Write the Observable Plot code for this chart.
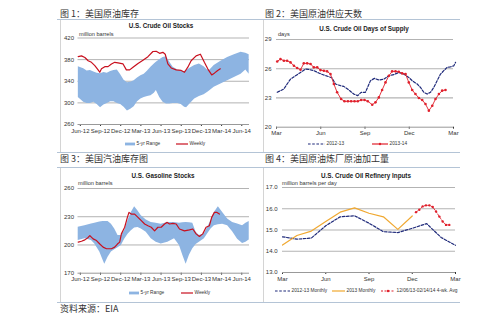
<!DOCTYPE html>
<html><head><meta charset="utf-8">
<script src="https://cdn.jsdelivr.net/npm/d3@7"></script>
<script src="https://cdn.jsdelivr.net/npm/@observablehq/plot@0.6"></script>
<style>
body{margin:0;background:#fff;}
#root{position:relative;width:499px;height:322px;overflow:hidden;font-family:"Liberation Sans",Arial,sans-serif;background:#fff;}
.cn{position:absolute;font-family:"Noto Sans CJK SC";font-size:9px;color:#333;line-height:1;white-space:nowrap;}
.hl{position:absolute;height:0;border-top:1px solid #b4c4d6;}
.vl{position:absolute;width:0;border-left:1px solid #d4d4d4;}
.ct{position:absolute;font-weight:bold;font-size:6.3px;color:#222;transform:translateX(-50%);white-space:nowrap;line-height:1;}
.un{position:absolute;font-size:5.6px;color:#333;white-space:nowrap;line-height:1;}
.lg{position:absolute;font-size:4.8px;color:#333;white-space:nowrap;line-height:1;display:flex;align-items:center;height:6px;}
.plot{position:absolute;}
.plot svg{overflow:visible;}
</style></head>
<body><div id="root"></div>
<script>
// ---------- data ----------
// Panels 1 & 3: x in months since Jun-2012
const stockTickMonths = [0,3,6,9,12,15,18,21,24];
const stockTickLabels = ["Jun-12","Sep-12","Dec-12","Mar-13","Jun-13","Sep-13","Dec-13","Mar-14","Jun-14"];

const crudeTicks = [260,300,340,380,420];
const crudeBandMonth = [-0.3,0.5,1,1.5,2,2.5,3,3.5,4,4.5,5,5.5,6,6.5,7,7.5,8,8.5,9,9.5,10,10.5,11,11.3,11.8,12.3,12.8,13.3,13.8,14.5,15,15.5,15.8,16.3,17,17.7,18.4,18.9,19.2,19.9,20.9,21.9,22.9,23.9,24.6,25.1];
const crudeBandHigh  = [367,363,359,360,357,355,354,356,355,358,360,361,352,342,337,338,341,346,350,353,359,366,372,375,380,384,385.5,375,366,361,359,358,360,364,369,372,367,361,360,369,377,384,389,393.5,392,389];
const crudeBandLow   = [310,301,299,299,301,297,291,296,299,302,302,299,297,292,285,288,293,302,307,310,312,313,318,323,310,301,298,298,299,299,297,292,291,298,307,312,315,319,322,329,335,341,347,353,361,353];
const crudeWeeklyMonth = [-0.32,0.17,0.67,1.16,1.65,2.15,2.64,2.89,3.14,3.63,4.12,4.62,5.11,5.6,6.35,6.84,7.33,7.83,8.57,9.31,10.05,10.79,11.28,11.78,12.27,12.62,13.01,13.51,14.25,14.99,15.48,15.98,16.47,17.21,17.85,18.44,18.94,19.53,19.93,20.42,20.81];
const crudeWeeklyValue = [385.5,387,384,378,375,369,361,356.6,363,367,367,372,375,374,372,361,361,366,373,379,385.5,395,395.4,391.7,393.5,390,372,364.6,361,360,356.6,366,378,387,390,375,363,351.7,355,360,363];

const gasTicks = [170,200,230,260];
const gasBandMonth = [-0.32,0.67,1.65,2.15,2.89,3.38,3.63,4.12,4.62,5.11,5.6,6.1,6.59,7.09,7.58,8.07,8.57,9.06,9.8,10.54,11.28,12.02,13.01,14,14.74,15.23,15.73,16.22,16.72,17.21,17.7,18.44,18.94,19.43,19.93,20.52,21.16,21.9,22.64,23.38,24.12,24.62,25.11];
const gasBandHigh = [218.8,220.5,222.3,223,224.3,225,225,225,222,217,210,210,215,226,234.6,240.5,236,231,226.5,224,223,222,224,224,223,223.5,224,223.5,223,213.5,210,211.8,218.8,226,234.6,240.5,234.6,227.5,224,222.3,220.5,223,225];
const gasBandLow  = [204.7,206.5,204.7,201,192.5,183.7,179.5,187,192.5,195,197,199.5,206,211.5,215,218,218.5,217,213.5,206.5,203,201,203,206.5,199.5,189,179.5,189,196,200.5,203,206.5,212,217,220.5,221.5,222,220.5,214,206,201.5,203,205.4];
const gasWeeklyMonth = [-0.32,0.17,0.67,1.16,1.41,1.9,2.4,2.89,3.38,3.88,4.62,5.11,5.51,5.85,6.1,6.59,6.99,7.23,7.58,8.07,8.57,9.06,9.56,10.05,10.54,11.04,11.53,12.02,12.52,12.91,13.26,13.75,14.25,14.74,15.48,16.22,16.72,17.21,17.7,18.2,18.69,19.19,19.53,19.93,20.32,20.67];
const gasWeeklyValue = [203,204,205.4,208,210,206.5,204.7,201,197.7,196,196,197.7,201,203,211.8,218.8,229.3,234.6,232.8,232.8,229.3,225.8,222.3,220.5,218.8,215,218.8,218.8,222.3,224,222.3,223,222.3,217,215,216,217,211.8,209,211.8,218.8,220.5,229.3,234.6,234.6,232.8];

// Panels 2 & 4: x in months since March
const seasonTickMonths = [0,3,6,9,12];
const seasonTickLabels = ["Mar","Jun","Sep","Dec","Mar"];

const daysTicks = [20,23,26,29];
const days1213Month = [0.05,0.27,0.5,0.72,0.95,1.29,1.63,1.97,2.19,2.53,2.87,3.21,3.55,3.77,4,4.34,4.56,4.9,5.24,5.51,5.74,6.03,6.37,6.64,6.94,7.28,7.62,7.95,8.29,8.63,8.97,9.2,9.54,9.76,9.99,10.21,10.44,10.67,10.89,11.12,11.34,11.57,11.8,12.02,12.14];
const days1213Value = [23.58,23.75,23.92,24.43,24.94,25.28,25.62,25.97,25.93,25.8,25.56,25.35,25.18,25.04,24.43,24.26,24.19,23.82,23.4,23.24,23.58,23.58,24.77,25.01,24.84,24.94,25.28,25.39,25.62,25.45,25.11,24.77,24.43,24.09,23.58,23.4,23.58,24.09,24.77,25.45,25.8,26.14,26.2,26.3,26.65];
const days1314Month = [0.05,0.27,0.5,0.72,0.95,1.18,1.4,1.63,1.85,2.08,2.31,2.53,2.76,2.98,3.21,3.43,3.66,3.89,4.11,4.38,4.61,4.84,5.06,5.29,5.51,5.74,5.97,6.19,6.49,6.71,6.94,7.16,7.39,7.62,7.84,8.07,8.29,8.52,8.75,8.97,9.2,9.42,9.65,9.88,10.1,10.33,10.56,10.78,11.01,11.23,11.46];
const days1314Value = [26.75,26.99,26.82,26.82,26.65,26.31,26.07,25.9,26.55,26.55,26.48,26.14,26.14,25.86,25.8,25.73,25.45,24.43,23.58,22.89,22.66,22.66,22.66,22.66,22.66,22.79,22.79,22.66,22.31,22.55,23.06,23.82,24.6,25.28,25.73,25.73,25.69,25.52,25.45,24.6,23.82,23.4,23,22.79,22.38,21.7,22.2,22.89,23.4,23.75,23.82];

const refTicks = [13,14,15,16,17];
const ref1213Month = [0,1,2,3,4,5,6,7,8,9,10,11,12];
const ref1213Value = [14.68,14.57,14.62,15.2,15.62,15.67,15.32,14.92,14.88,15.08,15.3,14.65,14.28];
const ref2013Month = [0,1,2,3,4,5,6,7,8,9];
const ref2013Value = [14.29,14.74,14.95,15.4,15.84,16.04,15.79,15.62,15.03,15.66];
const refWkMonth = [9.26,9.49,9.72,9.95,10.19,10.42,10.65,10.88,11.11,11.34,11.57];
const refWkValue = [15.84,15.95,16.11,16.16,16.16,16.08,15.87,15.63,15.4,15.24,15.24];

// ---------- colors ----------
const BAND = "#8db4e2", RED = "#c8101e", RED2 = "#e0202c", NAVY = "#1f2a7a", ORANGE = "#f0a830", GRID = "#b3b3b3";
const NAVYDASH = "2.6,1.6";

const zip = (xs, ys) => xs.map((x, i) => ({x, y: ys[i]}));
const zip3 = (xs, a, b) => xs.map((x, i) => ({x, lo: a[i], hi: b[i]}));

const root = document.getElementById("root");
function el(cls, left, top, html, extra) {
  const d = document.createElement("div");
  d.className = cls; d.style.left = left + "px"; d.style.top = top + "px";
  if (html != null) d.innerHTML = html;
  if (extra) Object.assign(d.style, extra);
  root.appendChild(d); return d;
}

const baseStyle = {fontSize: "6px", fontFamily: "Liberation Sans, Arial, sans-serif", color: "#333", background: "transparent", overflow: "visible"};

function place(svg, left, top) {
  const d = el("plot", left, top);
  d.appendChild(svg);
}

// ---------- Panel 1 ----------
const stockLab = new Map(stockTickMonths.map((m, i) => [m, stockTickLabels[i]]));
place(Plot.plot({
  width: 190, height: 108, marginLeft: 17.5, marginRight: 1, marginTop: 7.5, marginBottom: 14,
  style: baseStyle,
  x: {domain: [-0.35, 25.15], ticks: stockTickMonths, tickFormat: d => stockLab.get(d), tickSize: 2, tickPadding: 2, label: null},
  y: {domain: [260, 420], ticks: crudeTicks, tickSize: 0, tickPadding: 4, label: null},
  marks: [
    Plot.ruleY(crudeTicks.slice(1), {stroke: GRID, strokeWidth: 1}),
    Plot.areaY(zip3(crudeBandMonth, crudeBandLow, crudeBandHigh), {x: "x", y1: "lo", y2: "hi", fill: BAND, curve: "linear"}),
    Plot.lineY(zip(crudeWeeklyMonth, crudeWeeklyValue), {x: "x", y: "y", stroke: RED, strokeWidth: 1.2}),
    Plot.ruleY([260], {stroke: "#999"})
  ]
}), 60, 30);

// ---------- Panel 3 ----------
place(Plot.plot({
  width: 190, height: 107, marginLeft: 17.5, marginRight: 1, marginTop: 8, marginBottom: 14.3,
  style: baseStyle,
  x: {domain: [-0.35, 25.15], ticks: stockTickMonths, tickFormat: d => stockLab.get(d), tickSize: 2, tickPadding: 2, label: null},
  y: {domain: [170, 260], ticks: gasTicks, tickSize: 0, tickPadding: 4, label: null},
  marks: [
    Plot.ruleY(gasTicks.slice(1), {stroke: GRID, strokeWidth: 1}),
    Plot.areaY(zip3(gasBandMonth, gasBandLow, gasBandHigh), {x: "x", y1: "lo", y2: "hi", fill: BAND}),
    Plot.lineY(zip(gasWeeklyMonth, gasWeeklyValue), {x: "x", y: "y", stroke: RED, strokeWidth: 1.2}),
    Plot.ruleY([170], {stroke: "#999"})
  ]
}), 60, 180);

// ---------- Panel 2 ----------
const seasonLab = new Map(seasonTickMonths.map((m, i) => [m, seasonTickLabels[i]]));
const d1314 = zip(days1314Month, days1314Value);
place(Plot.plot({
  width: 197, height: 108, marginLeft: 13, marginRight: 7, marginTop: 7, marginBottom: 13.3,
  style: baseStyle,
  x: {domain: [0, 12], ticks: seasonTickMonths, tickFormat: d => seasonLab.get(d), tickSize: 2, tickPadding: 2, label: null},
  y: {domain: [20, 29], ticks: daysTicks, tickSize: 0, tickPadding: 5, label: null},
  marks: [
    Plot.ruleY(daysTicks.slice(1), {stroke: GRID, strokeWidth: 1.2}),
    Plot.lineY(zip(days1213Month, days1213Value), {x: "x", y: "y", stroke: NAVY, strokeWidth: 1.2, strokeDasharray: NAVYDASH}),
    Plot.lineY(d1314, {x: "x", y: "y", stroke: RED2, strokeWidth: 0.9}),
    Plot.dot(d1314, {x: "x", y: "y", fill: RED2, r: 1.3}),
    Plot.ruleY([20], {stroke: "#999"})
  ]
}), 263, 32);

// ---------- Panel 4 ----------
const wk = zip(refWkMonth, refWkValue);
place(Plot.plot({
  width: 197, height: 106, marginLeft: 19, marginRight: 5, marginTop: 7, marginBottom: 14,
  style: baseStyle,
  x: {domain: [0, 12], ticks: seasonTickMonths, tickFormat: d => seasonLab.get(d), tickSize: 2, tickPadding: 2, label: null},
  y: {domain: [13, 17], ticks: refTicks, tickFormat: d3.format(".1f"), tickSize: 0, tickPadding: 5, label: null},
  marks: [
    Plot.ruleY(refTicks.slice(1), {stroke: GRID, strokeWidth: 1.2}),
    Plot.lineY(zip(ref1213Month, ref1213Value), {x: "x", y: "y", stroke: NAVY, strokeWidth: 1.2, strokeDasharray: NAVYDASH}),
    Plot.lineY(zip(ref2013Month, ref2013Value), {x: "x", y: "y", stroke: ORANGE, strokeWidth: 1.2}),
    Plot.lineY(wk, {x: "x", y: "y", stroke: RED2, strokeWidth: 0.9, strokeDasharray: "2,1.5"}),
    Plot.dot(wk, {x: "x", y: "y", fill: RED2, r: 1.2}),
    Plot.ruleY([13], {stroke: "#999"})
  ]
}), 263, 180);

// ---------- frames & text ----------
el("hl", 57, 19, null, {width: "403px"});
el("hl", 57, 152, null, {width: "403px"});
el("hl", 57, 167, null, {width: "403px"});
el("hl", 57, 302, null, {width: "403px"});
el("vl", 60, 20, null, {height: "132px"});
el("vl", 263, 20, null, {height: "132px"});
el("vl", 60, 168, null, {height: "134px"});
el("vl", 263, 168, null, {height: "134px"});

el("cn", 60, 8.5, "图 1：美国原油库存");
el("cn", 265, 8.5, "图 2：美国原油供应天数");
el("cn", 60, 154, "图 3：美国汽油库存图");
el("cn", 265, 154, "图 4：美国原油炼厂原油加工量");
el("cn", 60, 303.5, "资料来源：EIA");

el("ct", 161, 23, "U.S. Crude Oil Stocks");
el("ct", 364, 26, "U.S. Crude Oil Days of Supply");
el("ct", 163, 173, "U.S. Gasoline Stocks");
el("ct", 366, 173, "U.S. Crude Oil Refinery Inputs");

el("un", 79, 31.5, "million barrels");
el("un", 278, 32, "days");
el("un", 78, 181, "million barrels");
el("un", 282, 181, "million barrels per day");

function legend(x, y, w, sw, label) {
  el("lg", x, y - 3, `<svg width="${w}" height="6" style="margin-right:1.5px;overflow:visible">${sw}</svg><span>${label}</span>`);
}
const bandSw = w => `<rect x="0" y="1.6" width="${w}" height="2.8" fill="${BAND}"/>`;
const lineSw = (w, c, dash) => `<line x1="0" y1="3" x2="${w}" y2="3" stroke="${c}" stroke-width="1.2" ${dash ? `stroke-dasharray="${dash}"` : ""}/>`;
const markSw = (w, c, dash) => lineSw(w, c, dash) + `<circle cx="${w / 2}" cy="3" r="1.2" fill="${c}"/>`;

legend(125, 144, 10, bandSw(10), "5-yr Range");
legend(176, 144, 12, lineSw(12, RED), "Weekly");
legend(129, 293, 10, bandSw(10), "5-yr Range");
legend(181, 293, 12, lineSw(12, RED), "Weekly");
legend(308, 144, 17, lineSw(17, NAVY, NAVYDASH), "2012-13");
legend(372, 144, 16, markSw(16, RED2), "2013-14");
legend(275, 291, 15, lineSw(15, NAVY, NAVYDASH), "2012-13 Monthly");
legend(332, 291, 13, lineSw(13, ORANGE), "2013 Monthly");
legend(381, 291, 14, markSw(14, RED2, "2,1.5"), "12/06/13-02/14/14 4-wk. Avg");
</script>
</body></html>
